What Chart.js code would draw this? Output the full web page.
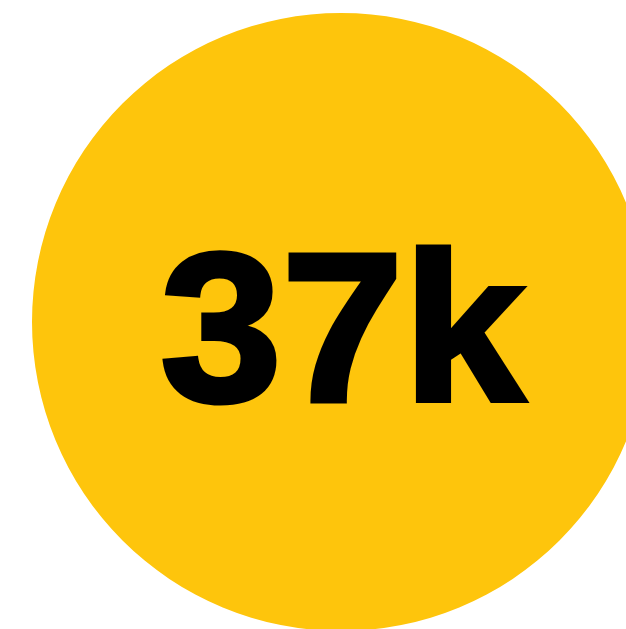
<!DOCTYPE html>
<html>
<head>
<meta charset="utf-8">
<script src="https://cdn.jsdelivr.net/npm/chart.js@4/dist/chart.umd.min.js"></script>
<style>
html,body{margin:0;padding:0;background:#fff;overflow:hidden;width:626px;height:629px;}
#wrap{position:absolute;left:32px;top:13px;width:618px;height:618px;}
</style>
</head>
<body>
<div id="wrap"><canvas id="c" width="618" height="618"></canvas></div>
<script>
const categories = ["Total"];
const values = [37000];
const colors = ["#FEC50C"];

function formatK(v){ return Math.round(v/1000) + "k"; }

const centerText = {
  id: "centerText",
  afterDatasetsDraw(chart){
    const arc = chart.getDatasetMeta(0).data[0];
    const ctx = chart.ctx;
    const label = formatK(values[0]);
    ctx.save();
    ctx.translate(arc.x + 1.5, arc.y + 79);
    ctx.scale(1.035, 1);
    ctx.fillStyle = "#000";
    ctx.strokeStyle = "#000";
    ctx.lineWidth = 5;
    ctx.lineJoin = "miter";
    ctx.font = "bold 211px 'Liberation Sans', Arial, sans-serif";
    ctx.textAlign = "center";
    ctx.textBaseline = "alphabetic";
    ctx.fillText(label, 0, 0);
    ctx.strokeText(label, 0, 0);
    ctx.restore();
  }
};

new Chart(document.getElementById("c"), {
  type: "pie",
  data: {
    labels: categories,
    datasets: [{ data: values, backgroundColor: colors, borderWidth: 0 }]
  },
  options: {
    responsive: false,
    animation: false,
    layout: { padding: 0 },
    plugins: { legend: { display: false }, tooltip: { enabled: false } }
  },
  plugins: [centerText]
});
</script>
</body>
</html>
